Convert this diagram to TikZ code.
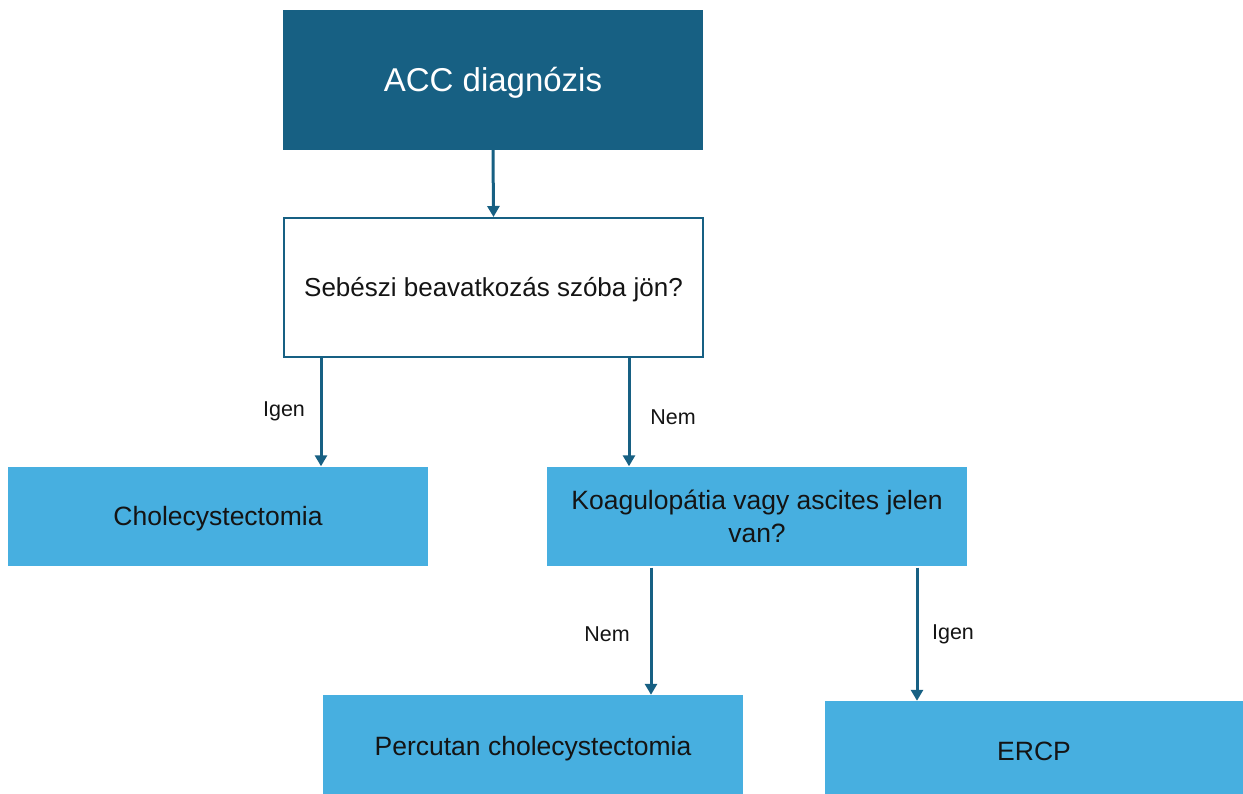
\documentclass[tikz,border=0pt]{standalone}
\usepackage{fontspec}
\setmainfont{Liberation Sans}
\usetikzlibrary{arrows.meta}
\definecolor{darkblue}{RGB}{23,96,131}
\definecolor{lightblue}{RGB}{71,175,224}
\definecolor{txt}{RGB}{20,20,20}
\tikzset{
  topbox/.style={rectangle, fill=darkblue, text=white, minimum width=420pt, minimum height=140pt, inner sep=0pt, font=\fontsize{33}{40}\selectfont, text height=23.6pt, text depth=0pt},
  qbox/.style={rectangle, draw=darkblue, line width=2pt, fill=white, text=txt, minimum width=419pt, minimum height=139pt, inner sep=0pt, font=\fontsize{26}{32}\selectfont, text height=18.6pt, text depth=0pt},
  lbox/.style={rectangle, fill=lightblue, text=txt, minimum width=420pt, minimum height=99pt, inner sep=0pt, align=center, font=\fontsize{26.5}{33}\selectfont},
  capc/.style={text height=19pt, text depth=0pt},
  arr/.style={draw=darkblue, line width=3pt, -{Triangle[width=12pt,length=11pt]}},
  lbl/.style={text=txt, inner sep=0pt, font=\fontsize{21.5}{26}\selectfont}
}
\begin{document}
\begin{tikzpicture}[x=1pt,y=-1pt]
\useasboundingbox (0,0) rectangle (1243,794);
\node[topbox] (acc) at (493,80) {ACC diagnózis};
\node[qbox] (q) at (493.5,287.5) {Sebészi beavatkozás szóba jön?};
\node[lbox, capc] (chole) at (218,516) {Cholecystectomia};
\node[lbox] (koag) at (757,516) {Koagulopátia vagy ascites jelen\\van?};
\node[lbox, capc, minimum height=102pt] (perc) at (533,746) {Percutan cholecystectomia};
\node[lbox, capc, minimum width=418pt, minimum height=100pt] (ercp) at (1034,751) {ERCP};
\draw[arr] (acc.south) -- (q.north);
\draw[arr] ([xshift=-172.5pt]q.south) -- ([xshift=-172.5pt]q.south |- chole.north);
\draw[arr] ([xshift=135.5pt]q.south) -- ([xshift=135.5pt]q.south |- koag.north);
\draw[arr] ([xshift=-106pt,yshift=-2pt]koag.south) -- ([xshift=-106pt]koag.south |- perc.north);
\draw[arr] ([xshift=160pt,yshift=-2pt]koag.south) -- ([xshift=160pt]koag.south |- ercp.north);
\node[lbl] (l1) at (284,411) {Igen};
\node[lbl] (l2) at (673,417) {Nem};
\node[lbl] (l3) at (607,634) {Nem};
\node[lbl] (l4) at (953,634) {Igen};
\end{tikzpicture}
\end{document}
